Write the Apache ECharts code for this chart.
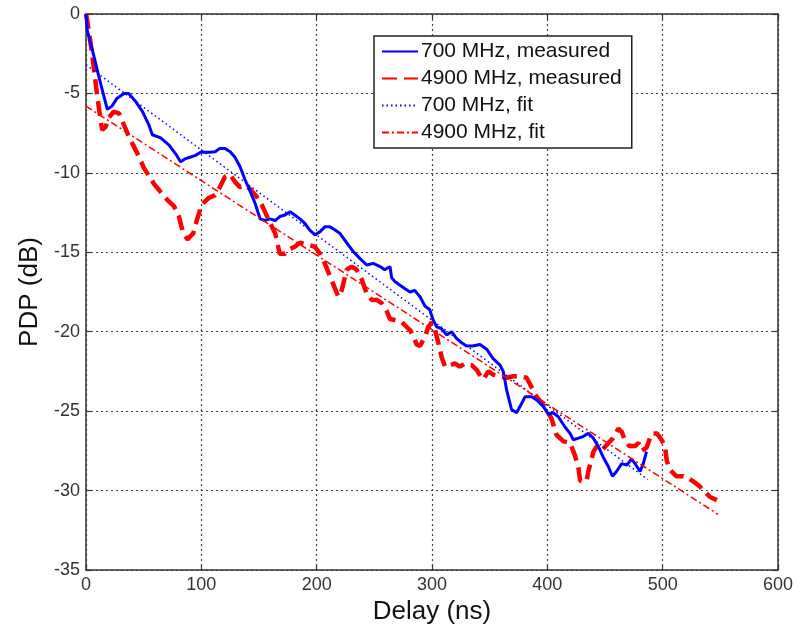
<!DOCTYPE html>
<html>
<head>
<meta charset="utf-8">
<script src="https://cdn.jsdelivr.net/npm/echarts@6/dist/echarts.min.js"></script>
<style>html,body{margin:0;padding:0;background:#fff}#c{width:798px;height:637px}</style>
</head>
<body>
<div id="c"></div>
<script>
// ---- data ----
const seriesNames = ['700 MHz, measured', '4900 MHz, measured', '700 MHz, fit', '4900 MHz, fit'];
const xTicks = [0, 100, 200, 300, 400, 500, 600];
const yTicks = [0, -5, -10, -15, -20, -25, -30, -35];

const delay700 = [0,1,7,11,15.6,18.5,22.5,27,33,37,43,49,54.6,57.5,64.7,72,77.7,82,86.4,90.8,95,99.4,107,112,116,120.5,125,129,133.5,138,142,146.5,151,155,159.5,164,168,172.5,177,181,185.5,190,194,198.5,203,207,211.5,216,220,226,231.8,237.6,243.4,249,255,259,263.6,265,268,272,276.6,281,285,289.6,294,298,301,304,308,312.7,317,321,325.7,330,335,341.6,347.4,353,359,361.8,364.8,369,373.4,377.8,380.6,386.4,390.8,396.5,401,405,409.5,415.3,419.7,422.5,426.9,431,435.5,439.9,444,448.5,453,456.4,460,464.5,469,473,476,480.4,483.2,486];
const pdp700 = [0,-1.0,-2.7,-3.9,-5.2,-6.0,-5.8,-5.3,-5.0,-5.0,-5.5,-6.15,-7.0,-7.6,-7.8,-8.25,-8.8,-9.3,-9.1,-9.0,-8.9,-8.7,-8.7,-8.67,-8.46,-8.46,-8.67,-9.0,-9.6,-10.45,-11.1,-11.9,-12.9,-13.0,-12.9,-13.0,-12.75,-12.65,-12.45,-12.65,-12.9,-13.2,-13.6,-13.9,-13.7,-13.4,-13.4,-13.6,-13.8,-14.4,-14.96,-15.4,-15.8,-15.7,-15.9,-16.1,-15.9,-16.6,-16.85,-17.06,-17.3,-17.5,-17.4,-17.8,-18.4,-18.6,-19.26,-19.7,-19.8,-20.2,-20.0,-20.4,-20.7,-20.9,-20.9,-20.8,-21.1,-21.7,-22.1,-22.5,-23.7,-24.9,-25.1,-24.5,-24.1,-24.1,-24.3,-24.7,-25.2,-25.1,-25.35,-26.0,-26.4,-26.8,-26.7,-26.6,-26.4,-26.7,-27.2,-27.9,-28.5,-29.1,-28.8,-28.3,-28.4,-28.0,-28.3,-28.8,-28.3,-27.55];

const delay4900 = [0,0.6,4,7,9.8,12.7,14,17,20,24,28.6,33,37,41.6,46,50.3,54.6,59,64.7,70.5,76.3,80.6,83.5,88,93,96,100.3,106,111.8,116,120.5,124.9,129,133.5,137.9,142,148,152.3,158,164,168,172.5,175.4,181,185.5,191,198.5,203,207,211.5,216,218.8,221.7,226,230.4,234.7,239,243.4,247.7,252,256.4,260.7,263.6,269.4,273.7,278,281,283.8,286.7,289.6,294,296.8,299.7,302.6,305.5,308.4,311.3,315.6,320,324,328.6,334.4,338.8,342,344.5,348.8,353,359,364.8,370.5,376.3,382,386.4,390.8,395,399.4,403.8,408,414,419.7,424,427,428.5,434,435.5,440,443,447,453,457,461.6,464.5,467,471,476,479,482,486,489,491,495,499,502,503.5,506.4,512,518,522,528,532.3,536.7,541,547];
const pdp4900 = [0,-0.2,-1.85,-3.5,-5.2,-6.7,-7.3,-7.1,-6.5,-6.15,-6.25,-7.0,-7.7,-8.35,-9.0,-9.7,-10.2,-10.7,-11.2,-11.7,-12.1,-12.75,-13.6,-14.2,-13.8,-13.0,-12.0,-11.6,-11.4,-10.9,-10.25,-10.1,-10.55,-10.9,-10.8,-11.0,-11.5,-12.0,-12.9,-13.8,-15.1,-15.1,-14.85,-14.65,-14.4,-14.5,-14.65,-15.1,-15.7,-16.5,-17.3,-17.8,-17.4,-16.1,-15.9,-16.1,-16.7,-17.6,-18.0,-18.0,-18.2,-18.7,-19.2,-19.3,-19.4,-19.7,-19.9,-20.3,-20.8,-20.9,-20.3,-19.7,-19.4,-19.9,-20.7,-21.6,-22.2,-22.1,-22.0,-22.2,-22.0,-22.1,-22.4,-22.8,-23.0,-22.5,-22.7,-22.8,-22.9,-22.8,-22.8,-22.9,-23.5,-24.1,-24.5,-24.9,-25.5,-26.5,-26.9,-27.0,-27.8,-28.6,-29.4,-29.4,-28.8,-27.55,-27.2,-27.5,-27.0,-26.7,-26.1,-26.3,-26.8,-27.2,-27.2,-27.0,-27.5,-27.3,-26.7,-26.4,-26.4,-26.8,-27.2,-28.1,-28.7,-29.1,-29.1,-29.2,-29.5,-29.75,-30.1,-30.4,-30.6];

const fitDelay700 = [0, 487];
const fitPdp700 = [-3.2, -29.3];
const fitDelay4900 = [0, 548];
const fitPdp4900 = [-5.8, -31.5];

// ---- build chart ----
const zip = (xs, ys) => xs.map((x, i) => [x, ys[i]]);
const FONT = '"Liberation Sans", Arial, Helvetica, sans-serif';
const chart = echarts.init(document.getElementById('c'), null, {renderer: 'canvas'});

const gridLine = {show: true, lineStyle: {color: '#444', type: [2, 3], width: 1.2}};
const axisLineS = {show: true, onZero: false, lineStyle: {color: '#333', width: 1.5}};
const tickS = {show: true, inside: true, length: 5, lineStyle: {color: '#333', width: 1.2}};

chart.setOption({
  animation: false,
  backgroundColor: '#fff',
  grid: {left: 86, right: 20, top: 14, bottom: 67, containLabel: false},
  legend: {
    orient: 'vertical',
    left: 374, top: 36,
    data: seriesNames,
    itemWidth: 36, itemHeight: 14, itemGap: 6,
    padding: [5, 10, 5, 7],
    borderColor: '#222', borderWidth: 1.5,
    backgroundColor: '#fff',
    itemStyle: {opacity: 0, borderWidth: 0},
    textStyle: {fontFamily: FONT, fontSize: 21, color: '#111', padding: [0, 0, 0, -2]}
  },
  xAxis: [{
    type: 'value', min: 0, max: 600, interval: 100, position: 'bottom',
    name: 'Delay (ns)', nameLocation: 'middle', nameGap: 22,
    nameTextStyle: {fontFamily: FONT, fontSize: 26, color: '#111'},
    axisLine: axisLineS, axisTick: tickS, splitLine: gridLine,
    axisLabel: {fontFamily: FONT, fontSize: 18, color: '#333', margin: 6,
      formatter: v => xTicks.includes(v) ? String(v) : ''}
  }, {
    type: 'value', min: 0, max: 600, interval: 100, position: 'top',
    axisLine: axisLineS, axisTick: tickS, axisLabel: {show: false}, splitLine: {show: false}
  }],
  yAxis: [{
    type: 'value', min: -35, max: 0, interval: 5, position: 'left',
    name: 'PDP (dB)', nameLocation: 'middle', nameGap: 40,
    nameTextStyle: {fontFamily: FONT, fontSize: 26, color: '#111'},
    axisLine: axisLineS, axisTick: tickS, splitLine: gridLine,
    axisLabel: {fontFamily: FONT, fontSize: 18, color: '#333', margin: 6,
      formatter: v => yTicks.includes(v) ? String(v) : ''}
  }, {
    type: 'value', min: -35, max: 0, interval: 5, position: 'right',
    axisLine: axisLineS, axisTick: tickS, axisLabel: {show: false}, splitLine: {show: false}
  }],
  series: [
    {name: seriesNames[0], type: 'line', data: zip(delay700, pdp700), symbol: 'none', showSymbol: false,
     itemStyle: {color: '#0000ff'}, lineStyle: {color: '#0000ff', width: 3}, z: 4},
    {name: seriesNames[1], type: 'line', data: zip(delay4900, pdp4900), symbol: 'none', showSymbol: false,
     itemStyle: {color: '#ff0000'}, lineStyle: {color: '#ff0000', width: 4.5, type: [15, 7]}, z: 3},
    {name: seriesNames[2], type: 'line', data: zip(fitDelay700, fitPdp700), symbol: 'none', showSymbol: false,
     itemStyle: {color: '#0000ff'}, lineStyle: {color: '#0000ff', width: 1.5, type: [1.5, 3]}, z: 5},
    {name: seriesNames[3], type: 'line', data: zip(fitDelay4900, fitPdp4900), symbol: 'none', showSymbol: false,
     itemStyle: {color: '#ff0000'}, lineStyle: {color: '#ff0000', width: 1.5, type: [7, 3, 2, 3]}, z: 5}
  ]
});
</script>
</body>
</html>
